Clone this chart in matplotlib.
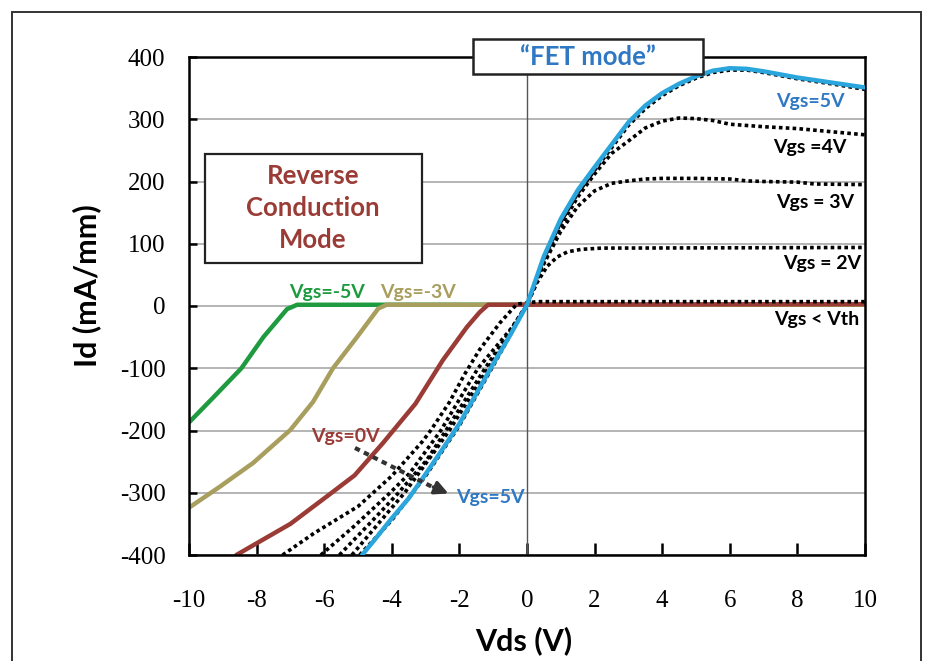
import numpy as np
import matplotlib
matplotlib.use("Agg")
import matplotlib.pyplot as plt
from matplotlib.patches import Rectangle

plt.rcParams['font.family'] = ['Lato', 'DejaVu Sans']
plt.rcParams['axes.unicode_minus'] = False

# Id-Vds curves (Vds in V, Id in mA/mm)
green_x = [-10, -9.3, -8.45, -7.8, -7.1, -6.8, 10]
green_y = [-187, -148, -100, -50, -5, 2, 2]

olive_x = [-10, -9.08, -8.1, -7.0, -6.33, -5.74, -5.03, -4.4, -4.15, 10]
olive_y = [-324, -290, -252, -199, -154, -100, -50, -4, 2, 2]

red_x = [-8.6, -7.0, -5.9, -5.1, -4.26, -3.3, -2.49, -1.78, -1.4, -1.15, 10]
red_y = [-400, -350, -305, -272, -220, -157, -87, -34, -10, 2, 3]

vgs1_x = [-7.23, -6.3, -5.0, -4.0, -3.1, -2.85, -2.3, -1.85, -1.4, -0.8, -0.3, 0.3, 10]
vgs1_y = [-400, -365, -322, -273, -218, -200, -155, -110, -70, -27, 3, 7, 7]

vgs2_x = [-6.1, -5.14, -4.05, -3.46, -2.55, -1.45, -0.45, 0, 0.3, 0.6, 0.9, 1.2, 1.6, 2.2, 10]
vgs2_y = [-400, -355, -300, -268, -200, -100, -35, 2, 38, 64, 79, 87, 91, 93, 94]

vgs3_x = [-5.55, -4.56, -3.8, -2.96, -2.4, -1.24, -0.5, 0, 0.5, 1, 1.5, 2, 2.5, 3, 3.5, 4, 5, 6, 6.5, 7, 8, 8.5, 10]
vgs3_y = [-400, -344, -300, -247, -200, -100, -40, 2, 68, 120, 160, 185, 197, 201, 204, 205, 205, 204, 201, 200, 199, 196, 195]

vgs4_x = [-5.18, -4.14, -3.62, -2.78, -2.3, -1.15, -0.5, 0, 0.5, 1, 1.5, 2, 2.5, 3, 3.5, 4, 4.5, 5, 5.5, 6, 7, 8, 9, 10]
vgs4_y = [-400, -333, -300, -237, -200, -100, -45, 2, 72, 128, 175, 212, 245, 265, 286, 297, 302, 301, 298, 292, 288, 285, 280, 275]

vgs5b_x = [-4.95, -4, -3, -2, -1, 0, 0.5, 1, 1.5, 2, 2.5, 3, 3.5, 4, 4.5, 5, 5.5, 6, 6.5, 7, 8, 9, 10]
vgs5b_y = [-400, -344, -273, -192, -96, 2, 76, 135, 181, 218, 254, 290, 317, 338, 354, 366, 375, 379, 379, 375, 365, 357, 348]

blue_x = [-4.88, -4.5, -4, -3.5, -3, -2.5, -2, -1.5, -1, -0.5, 0, 0.5, 1, 1.5, 2, 2.5, 3, 3.5, 4, 4.5, 5, 5.5, 6, 6.5, 7, 8, 9, 10]
blue_y = [-400, -375, -341, -309, -270, -230, -189, -141, -93, -47, 2, 80, 140, 186, 223, 259, 295, 322, 342, 357, 369, 378, 382, 381, 377, 367, 359, 351]

x_ticks = [-10, -8, -6, -4, -2, 0, 2, 4, 6, 8, 10]
y_ticks = [-400, -300, -200, -100, 0, 100, 200, 300, 400]

c_green = '#1e9a3f'
c_olive = '#a89e5e'
c_red = '#9a3b36'
c_blue = '#2aa6dd'
c_bluetxt = '#2f78c4'

fig = plt.figure(figsize=(9.33, 6.61), dpi=100)
ax = fig.add_axes([189/933, 1-555/661, 676/933, 498/661])

ax.set_xlim(-10, 10)
ax.set_ylim(-400, 400)
ax.set_xticks(x_ticks)
ax.set_yticks(y_ticks)
ax.yaxis.grid(True, color='#a8a8a8', lw=1.2, zorder=0)
ax.set_axisbelow(True)
ax.axvline(0, color='#555555', lw=1, zorder=1)

ax.plot(green_x, green_y, color=c_green, lw=3.2, zorder=2, solid_capstyle='round')
ax.plot(olive_x, olive_y, color=c_olive, lw=3.2, zorder=2, solid_capstyle='round')
ax.plot(red_x, red_y, color=c_red, lw=3.2, zorder=2, solid_capstyle='round')
for bx, by in [(vgs1_x, vgs1_y), (vgs2_x, vgs2_y), (vgs3_x, vgs3_y), (vgs4_x, vgs4_y), (vgs5b_x, vgs5b_y)]:
    ax.plot(bx, by, color='black', lw=2.6, ls=(0, (1, 0.9)), zorder=3)
ax.plot(blue_x, blue_y, color=c_blue, lw=3.2, zorder=4, solid_capstyle='round')

for s in ax.spines.values():
    s.set_linewidth(1.8)
ax.tick_params(axis='both', direction='in', width=1.8, labelsize=18)
ax.tick_params(axis='x', length=9, pad=25)
ax.tick_params(axis='y', length=6, pad=17)
for lab in ax.get_xticklabels() + ax.get_yticklabels():
    lab.set_family('Liberation Serif')

ax.set_xlabel('Vds (V)', fontsize=22, fontweight='bold')
ax.set_ylabel('Id (mA/mm)', fontsize=22, fontweight='bold')
ax.xaxis.set_label_coords(0.495, -0.143)
ax.yaxis.set_label_coords(-0.13, 0.54)

# curve labels
lbl = dict(fontsize=14, fontweight='bold', ha='center', va='center', zorder=6)
ax.text(8.37, 328, 'Vgs=5V', color=c_bluetxt, **lbl)
ax.text(8.37, 254, 'Vgs =4V', color='black', **lbl)
ax.text(8.52, 167, 'Vgs = 3V', color='black', **lbl)
ax.text(8.73, 69, 'Vgs = 2V', color='black', **lbl)
ax.text(8.58, -21, 'Vgs < Vth', color='black', **lbl)
ax.text(-5.92, 22, 'Vgs=-5V', color=c_green, **lbl)
ax.text(-3.22, 22, 'Vgs=-3V', color=c_olive, **lbl)
ax.text(-5.38, -209, 'Vgs=0V', color=c_red, **lbl)
ax.text(-2.1, -308, 'Vgs=5V', color=c_bluetxt, fontsize=14, fontweight='bold',
        ha='left', va='center', zorder=6)

# dashed arrow from Vgs=0V to Vgs=5V
ax.plot([-5.09, -2.75], [-228, -292], color='#333333', lw=3, ls=(0, (1.3, 1.1)), zorder=5)
ax.annotate('', xy=(-2.25, -303), xytext=(-2.85, -289),
            arrowprops=dict(arrowstyle='-|>', color='#333333', lw=2.4, mutation_scale=20),
            zorder=5)

# boxes
fig.patches.append(Rectangle((205/933, 1-263/661), 217/933, 109/661, transform=fig.transFigure,
                             facecolor='white', edgecolor='#222222', lw=1.6, zorder=5))
fig.text(313/933, 1-208/661, 'Reverse\nConduction\nMode', color=c_red, fontsize=18.5,
         fontweight='bold', ha='center', va='center', linespacing=1.4, zorder=6)

fig.patches.append(Rectangle((473/933, 1-74/661), 230/933, 35/661, transform=fig.transFigure,
                             facecolor='white', edgecolor='#222222', lw=1.8, zorder=5))
fig.text(588/933, 1-57/661, '\u201cFET mode\u201d', color=c_bluetxt, fontsize=18.5,
         fontweight='bold', ha='center', va='center', zorder=6)

# outer frame
fig.patches.append(Rectangle((12/933, -0.05), 909/933, 1.05-12/661, transform=fig.transFigure,
                             facecolor='none', edgecolor='#333333', lw=1.4, zorder=7))

fig.savefig('out.png', dpi=100)
